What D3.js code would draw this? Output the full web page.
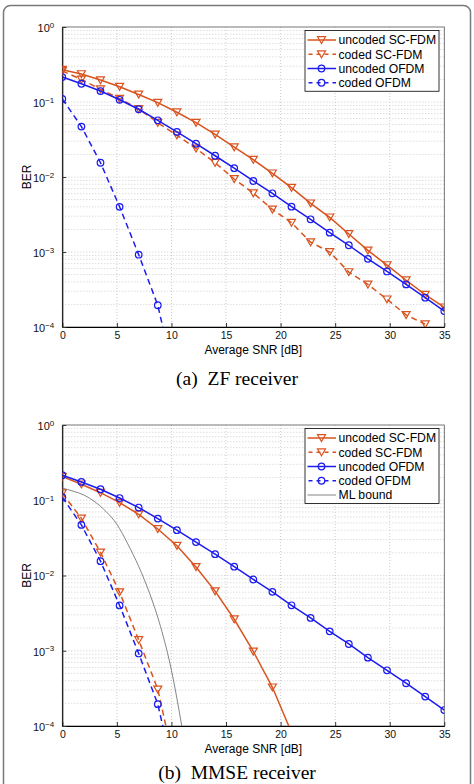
<!DOCTYPE html>
<html>
<head>
<meta charset="utf-8">
<script src="https://cdn.jsdelivr.net/npm/d3@7"></script>
<style>
  body { margin: 0; background: #fff; }
  svg { display: block; }
</style>
</head>
<body>
<svg width="474" height="784"></svg>
<script>
// SNR grid (dB) shared by all simulated curves
const snr = [0, 1.75, 3.5, 5.25, 7, 8.75, 10.5, 12.25, 14, 15.75, 17.5, 19.25, 21, 22.75, 24.5, 26.25, 28, 29.75, 31.5, 33.25, 35];
const xTicks = [0, 5, 10, 15, 20, 25, 30, 35];
const yTicks = [1, 0.1, 0.01, 0.001, 0.0001];
const yExp = ["0", "\u22121", "\u22122", "\u22123", "\u22124"];

// (a) ZF receiver
const zfUncodedSC = [0.27, 0.236, 0.196, 0.16, 0.126, 0.098, 0.073, 0.053, 0.037, 0.025, 0.017, 0.0112, 0.0072, 0.00446, 0.0029, 0.00174, 0.00105, 0.00067, 0.00042, 0.00027, 0.000183];
const zfCodedSC = [0.259, 0.2, 0.148, 0.111, 0.081, 0.053, 0.036, 0.024, 0.0155, 0.0094, 0.0061, 0.0037, 0.00246, 0.00135, 0.001, 0.00054, 0.00037, 0.000234, 0.000145, 0.000109];
// OFDM curves are the same for both receivers
const uncodedOFDM = [0.215, 0.175, 0.14, 0.107, 0.08, 0.057, 0.04, 0.0278, 0.0192, 0.0131, 0.00885, 0.00606, 0.00402, 0.00273, 0.00181, 0.00123, 0.00081, 0.00055, 0.00037, 0.000246, 0.000163];
const codedOFDM = [0.11, 0.047, 0.0155, 0.004, 0.00092, 0.000195, 0.000015];

// (b) MMSE receiver
const mmseUncodedSC = [0.206, 0.163, 0.126, 0.093, 0.065, 0.0415, 0.0249, 0.013, 0.0062, 0.00262, 0.00098, 0.000327, 0.000082];
const mmseCodedSC = [0.124, 0.0575, 0.0203, 0.006, 0.00139, 0.000307, 0.000022];
const mlSnr = [0, 1, 2, 3, 4, 5, 6, 7, 8, 9, 10, 11];
const mlBound = [0.145, 0.132, 0.117, 0.095, 0.071, 0.048, 0.0263, 0.0132, 0.0058, 0.0021, 0.00055, 0.00009];

const RED = "#d9531e";
const BLUE = "#1c1cf0";
const sans = "'Liberation Sans', Arial, sans-serif";

const svg = d3.select("svg");

svg.append("rect")
    .attr("x", 3.5).attr("y", 5.5)
    .attr("width", 467).attr("height", 810)
    .attr("rx", 7)
    .attr("fill", "#fff")
    .attr("stroke", "#7a7a7a")
    .attr("stroke-width", 1.5);

const triPath = "M-4,-3.3L4,-3.3L0,3.6Z";

function drawMarker(sel, kind, color) {
    if (kind === "tri") {
        sel.append("path").attr("d", triPath)
            .attr("fill", "none").attr("stroke", color).attr("stroke-width", 1.2);
    } else if (kind === "circ") {
        sel.append("circle").attr("r", 3.3)
            .attr("fill", "none").attr("stroke", color).attr("stroke-width", 1.2);
    }
}

function drawPanel(id, top, h, series, caption, captionY) {
    const left = 62.3, w = 382;
    const g = svg.append("g").attr("transform", `translate(${left},${top})`);
    const x = d3.scaleLinear().domain([0, 35]).range([0, w]);
    const y = d3.scaleLog().domain([1e-4, 1]).range([h, 0]);

    // dotted grid
    g.append("g").selectAll("line")
        .data(y.ticks().filter(v => v > 1e-4 && v < 1))
        .enter().append("line")
        .attr("x1", 0).attr("x2", w)
        .attr("y1", d => y(d)).attr("y2", d => y(d))
        .attr("stroke", "#b8b8b8").attr("stroke-width", 0.7)
        .attr("stroke-dasharray", "1,2");
    g.append("g").selectAll("line")
        .data(xTicks.slice(1, -1))
        .enter().append("line")
        .attr("x1", d => x(d)).attr("x2", d => x(d))
        .attr("y1", 0).attr("y2", h)
        .attr("stroke", "#b8b8b8").attr("stroke-width", 0.7)
        .attr("stroke-dasharray", "1,2");

    // box
    g.append("rect").attr("width", w).attr("height", h)
        .attr("fill", "none").attr("stroke", "#555").attr("stroke-width", 0.8);

    const xAxis = g.append("g")
        .attr("transform", `translate(0,${h})`)
        .call(d3.axisBottom(x).tickValues(xTicks).tickSizeInner(-4).tickSizeOuter(0).tickPadding(5));
    xAxis.selectAll("text").attr("font-family", sans).attr("font-size", "10.5px").attr("fill", "#111");

    const yAxis = g.append("g")
        .call(d3.axisLeft(y).tickValues(yTicks).tickSizeInner(-4).tickSizeOuter(0).tickPadding(8).tickFormat(""));
    yAxis.selectAll(".tick text").each(function(d, i) {
        const t = d3.select(this);
        t.attr("font-family", sans).attr("font-size", "11px").attr("fill", "#111").attr("dy", "0.4em");
        t.text("10");
        t.append("tspan").attr("dy", "-0.55em").attr("font-size", "8px").text(yExp[i]);
    });
    g.selectAll(".domain").attr("stroke", "#000").attr("stroke-width", 1);
    g.selectAll(".tick line").attr("stroke", "#333");

    // labels
    g.append("text")
        .attr("transform", `translate(-31,${h / 2}) rotate(-90)`)
        .attr("text-anchor", "middle")
        .attr("font-family", sans).attr("font-size", "12px")
        .text("BER");
    g.append("text")
        .attr("x", w / 2).attr("y", h + 27)
        .attr("text-anchor", "middle")
        .attr("font-family", sans).attr("font-size", "12px")
        .text("Average SNR [dB]");

    // curves
    g.append("clipPath").attr("id", id).append("rect").attr("width", w).attr("height", h);
    const plot = g.append("g").attr("clip-path", `url(#${id})`);
    series.forEach(s => {
        const pts = d3.zip(s.x, s.values);
        const line = d3.line().x(d => x(d[0])).y(d => y(d[1]));
        if (s.smooth) line.curve(d3.curveMonotoneX);
        plot.append("path")
            .attr("d", line(pts))
            .attr("fill", "none")
            .attr("stroke", s.color)
            .attr("stroke-width", s.width)
            .attr("stroke-dasharray", s.dash);
        if (s.marker) {
            plot.selectAll(null)
                .data(pts.filter(d => d[1] >= 1e-4))
                .enter().append("g")
                .attr("transform", d => `translate(${x(d[0])},${y(d[1])})`)
                .each(function() { drawMarker(d3.select(this), s.marker, s.color); });
        }
    });

    // legend
    const lx = 305, ly = top + 3.5, lh = 3.75 + series.length * 14.25;
    const lg = svg.append("g");
    lg.append("rect").attr("x", lx).attr("y", ly).attr("width", 134).attr("height", lh)
        .attr("fill", "#fff").attr("stroke", "#000").attr("stroke-width", 0.8);
    const item = lg.selectAll(".item").data(series).enter().append("g")
        .attr("class", "item")
        .attr("transform", (d, i) => `translate(${lx},${ly + 9.5 + i * 14.25})`);
    item.append("line").attr("x1", 2.5).attr("x2", 31)
        .attr("stroke", d => d.color).attr("stroke-width", d => d.width)
        .attr("stroke-dasharray", d => d.dash ? "4,4" : null)
        .attr("stroke-dashoffset", d => d.dash ? -1 : null);
    item.each(function(d) {
        if (d.marker) {
            const m = d3.select(this).append("g").attr("transform", "translate(16.5,0)");
            drawMarker(m, d.marker, d.color);
        }
    });
    item.append("text").attr("x", 33.5).attr("dy", "0.36em")
        .attr("font-family", sans).attr("font-size", "12.2px")
        .text(d => d.name);

    svg.append("text")
        .attr("x", 237).attr("y", captionY)
        .attr("text-anchor", "middle")
        .attr("font-family", "'Liberation Serif', 'Times New Roman', serif")
        .attr("font-size", "19.5px")
        .style("white-space", "pre")
        .text(caption);
}

drawPanel("clipA", 27, 300, [
    { name: "uncoded SC-FDM", x: snr, values: zfUncodedSC, color: RED, width: 1.5, dash: null, marker: "tri" },
    { name: "coded SC-FDM", x: snr, values: zfCodedSC, color: RED, width: 1.5, dash: "6,4", marker: "tri" },
    { name: "uncoded OFDM", x: snr, values: uncodedOFDM, color: BLUE, width: 1.5, dash: null, marker: "circ" },
    { name: "coded OFDM", x: snr, values: codedOFDM, color: BLUE, width: 1.5, dash: "6,4", marker: "circ" }
], "(a)  ZF receiver", 385);

drawPanel("clipB", 425, 301, [
    { name: "uncoded SC-FDM", x: snr, values: mmseUncodedSC, color: RED, width: 1.5, dash: null, marker: "tri" },
    { name: "coded SC-FDM", x: snr, values: mmseCodedSC, color: RED, width: 1.5, dash: "6,4", marker: "tri" },
    { name: "uncoded OFDM", x: snr, values: uncodedOFDM, color: BLUE, width: 1.5, dash: null, marker: "circ" },
    { name: "coded OFDM", x: snr, values: codedOFDM, color: BLUE, width: 1.5, dash: "6,4", marker: "circ" },
    { name: "ML bound", x: mlSnr, values: mlBound, color: "#666", width: 0.8, dash: null, marker: null, smooth: true }
], "(b)  MMSE receiver", 779);
</script>
</body>
</html>
